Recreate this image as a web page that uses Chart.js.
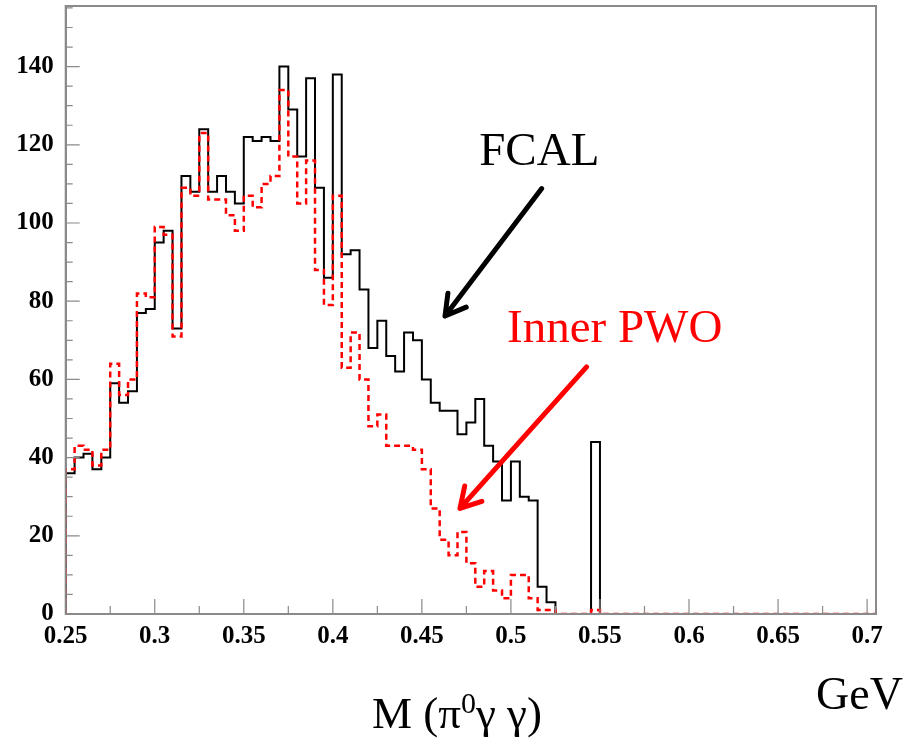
<!DOCTYPE html>
<html>
<head>
<meta charset="UTF-8" />
<title>M(pi0 gamma gamma) FCAL vs Inner PWO</title>
<script src="https://cdn.jsdelivr.net/npm/chart.js"></script>
<style>
  html, body { margin: 0; padding: 0; background: #fff; }
  canvas { display: block; }
</style>
</head>
<body>
<canvas id="histo" width="919" height="739"></canvas>
<script>
  // bins of 5 MeV starting at 0.25 GeV
  const binStart = 0.25;
  const binWidth = 0.005;

  // FCAL (black solid)
  const fcal = [
    36, 40, 41, 37, 40, 59, 54, 57, 77, 78,
    95, 98, 73, 112, 108, 124, 108, 112, 108, 105,
    122, 121, 122, 121, 140, 129, 117, 137, 109, 86,
    138, 92, 93, 83, 68, 75, 66, 62, 72, 70,
    60, 54, 52, 52, 46, 49, 55, 43, 39, 29,
    39, 30, 29, 7, 3, 0, 0, 0, 0, 44,
    0, 0, 0, 0, 0, 0, 0, 0, 0, 0,
    0, 0, 0, 0, 0, 0, 0, 0, 0, 0,
    0, 0, 0, 0, 0, 0, 0, 0, 0, 0, 0
  ];

  // Inner PWO (red dashed)
  const innerPwo = [
    37, 43, 42, 38, 42, 64, 56, 60, 82, 81,
    99, 97, 71, 109, 107, 123, 106, 106, 102, 98,
    107, 104, 110, 112, 134, 117, 105, 116, 88, 79,
    107, 63, 72, 60, 48, 51, 43, 43, 43, 42,
    37, 27, 19, 15, 21, 13, 7, 11, 6, 4,
    10, 10, 4, 1, 1, 0, 0, 0, 0, 1,
    0, 0, 0, 0, 0, 0, 0, 0, 0, 0,
    0, 0, 0, 0, 0, 0, 0, 0, 0, 0,
    0, 0, 0, 0, 0, 0, 0, 0, 0, 0, 0
  ];

  const xTicks = [0.25, 0.3, 0.35, 0.4, 0.45, 0.5, 0.55, 0.6, 0.65, 0.7];
  const yTicks = [0, 20, 40, 60, 80, 100, 120, 140];

  const xMin = 0.25, xMax = 0.705;
  const yMin = 0, yMax = 155.5;

  function stepPoints(vals) {
    var pts = [{ x: binStart, y: 0 }];
    for (var i = 0; i < vals.length; i++) {
      pts.push({ x: +(binStart + i * binWidth).toFixed(4), y: vals[i] });
    }
    pts.push({ x: +(binStart + vals.length * binWidth).toFixed(4), y: 0 });
    return pts;
  }

  const frameColor = "#8a8a8a";
  const serif = "'Liberation Serif', 'Times New Roman', serif";

  function arrow(ctx, x1, y1, x2, y2, color, head) {
    ctx.save();
    ctx.strokeStyle = color;
    ctx.lineWidth = 5;
    ctx.lineCap = "round";
    ctx.lineJoin = "round";
    ctx.beginPath();
    ctx.moveTo(x1, y1);
    ctx.lineTo(x2, y2);
    var a = Math.atan2(y1 - y2, x1 - x2);
    var s = Math.PI / 6;
    ctx.moveTo(x2 + head * Math.cos(a - s), y2 + head * Math.sin(a - s));
    ctx.lineTo(x2, y2);
    ctx.lineTo(x2 + head * Math.cos(a + s), y2 + head * Math.sin(a + s));
    ctx.stroke();
    ctx.restore();
  }

  // frame, inner ticks and the text/arrows
  const decorations = {
    id: "decorations",
    afterDraw(chart) {
      const ctx = chart.ctx;
      const a = chart.chartArea;
      const xs = chart.scales.x, ys = chart.scales.y;

      ctx.save();
      ctx.strokeStyle = frameColor;
      ctx.lineWidth = 2;
      ctx.strokeRect(a.left, a.top, a.right - a.left, a.bottom - a.top);

      ctx.lineWidth = 1.2;
      ctx.beginPath();
      // y ticks
      for (var i = 0; i < yTicks.length; i++) {
        var py = ys.getPixelForValue(yTicks[i]);
        ctx.moveTo(a.left, py); ctx.lineTo(a.left + 14, py);
        var step = i < yTicks.length - 1 ? (yTicks[i + 1] - yTicks[i]) / 4 : (yTicks[1] - yTicks[0]) / 4;
        for (var k = 1; k < 4; k++) {
          var v = yTicks[i] + k * step;
          if (v >= yMax) break;
          var pm = ys.getPixelForValue(v);
          ctx.moveTo(a.left, pm); ctx.lineTo(a.left + 7, pm);
        }
      }
      // x ticks
      for (var j = 0; j < xTicks.length; j++) {
        var px = xs.getPixelForValue(xTicks[j]);
        ctx.moveTo(px, a.bottom); ctx.lineTo(px, a.bottom - 15);
        if (j < xTicks.length - 1) {
          var mx = xs.getPixelForValue((xTicks[j] + xTicks[j + 1]) / 2);
          ctx.moveTo(mx, a.bottom); ctx.lineTo(mx, a.bottom - 8);
        }
      }
      ctx.stroke();

      // labels on the plot
      ctx.textBaseline = "alphabetic";
      ctx.textAlign = "left";
      ctx.font = "47px " + serif;
      ctx.fillStyle = "#000";
      ctx.fillText("FCAL", xs.getPixelForValue(0.4822), ys.getPixelForValue(114.8));
      arrow(ctx, xs.getPixelForValue(0.5173), ys.getPixelForValue(108.8),
            xs.getPixelForValue(0.4630), ys.getPixelForValue(76.2), "#000", 23);

      ctx.fillStyle = "#ff0000";
      ctx.fillText("Inner PWO", xs.getPixelForValue(0.4978), ys.getPixelForValue(69.5));
      arrow(ctx, xs.getPixelForValue(0.5425), ys.getPixelForValue(63.2),
            xs.getPixelForValue(0.4714), ys.getPixelForValue(27.0), "#ff0000", 23);

      // axis title below
      ctx.fillStyle = "#000";
      var tx = 372, ty = 728;
      ctx.font = "45px " + serif;
      ctx.fillText("M (\u03c0", tx, ty);
      tx += ctx.measureText("M (\u03c0").width;
      ctx.font = "30px " + serif;
      ctx.fillText("0", tx, ty - 15);
      tx += ctx.measureText("0").width;
      ctx.font = "45px " + serif;
      ctx.fillText("\u03b3 \u03b3)", tx, ty);

      ctx.font = "46px " + serif;
      ctx.fillText("GeV", 816, 709);
      ctx.restore();
    }
  };

  const labelFont = { family: serif, size: 25, weight: "bold" };

  new Chart(document.getElementById("histo").getContext("2d"), {
    type: "line",
    data: {
      datasets: [
        {
          label: "Inner PWO",
          data: stepPoints(innerPwo),
          stepped: "before",
          borderColor: "#ff0000",
          borderWidth: 2.5,
          borderDash: [6, 4],
          pointRadius: 0,
          fill: false,
          order: 1
        },
        {
          label: "FCAL",
          data: stepPoints(fcal),
          stepped: "before",
          borderColor: "#000000",
          borderWidth: 2,
          pointRadius: 0,
          fill: false,
          order: 2
        }
      ]
    },
    options: {
      responsive: false,
      devicePixelRatio: 1,
      animation: false,
      layout: { padding: { top: 6, right: 43, left: 0, bottom: 0 } },
      plugins: { legend: { display: false }, tooltip: { enabled: false } },
      scales: {
        x: {
          type: "linear",
          min: xMin,
          max: xMax,
          grid: { display: false },
          border: { display: true, color: frameColor, width: 2 },
          ticks: {
            font: labelFont,
            color: "#000",
            padding: 0,
            maxRotation: 0,
            autoSkip: false,
            includeBounds: false,
            callback: (v) => String(+(+v).toFixed(3))
          },
          afterBuildTicks: (s) => { s.ticks = xTicks.map(v => ({ value: v })); },
          afterFit: (s) => { s.height = 125; s.paddingLeft = 0; s.paddingRight = 0; }
        },
        y: {
          min: yMin,
          max: yMax,
          grid: { display: false },
          border: { display: true, color: frameColor, width: 2 },
          ticks: {
            font: labelFont,
            color: "#000",
            padding: 4,
            autoSkip: false,
            includeBounds: false,
            callback: (v) => String(v)
          },
          afterBuildTicks: (s) => { s.ticks = yTicks.map(v => ({ value: v })); },
          afterFit: (s) => { s.width = 65.7; s.paddingTop = 0; s.paddingBottom = 0; }
        }
      }
    },
    plugins: [decorations]
  });
</script>
</body>
</html>
